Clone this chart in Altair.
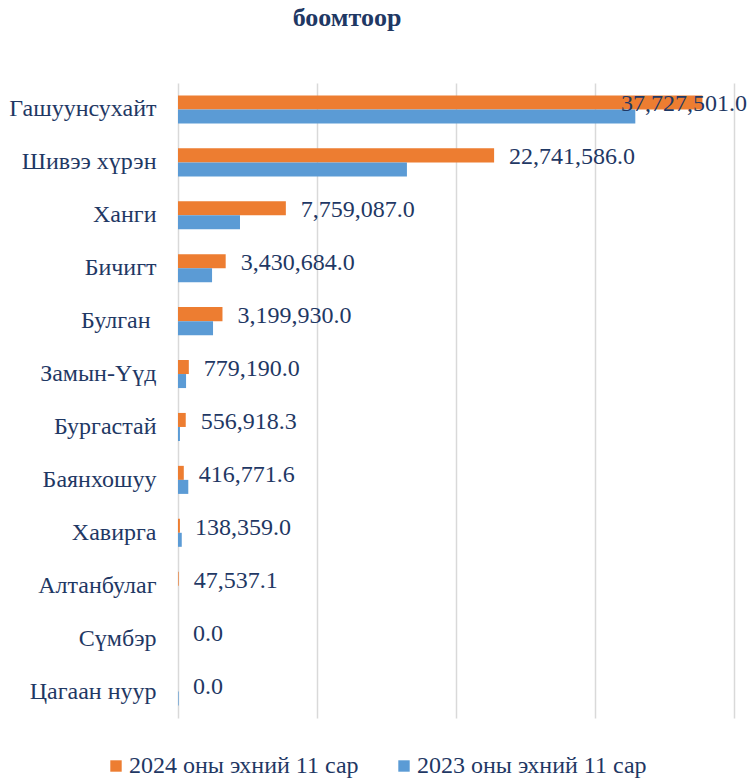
import altair as alt
import pandas as pd

ports = ["Гашуунсухайт", "Шивээ хүрэн", "Ханги", "Бичигт", "Булган ", "Замын-Үүд",
         "Бургастай", "Баянхошуу", "Хавирга", "Алтанбулаг", "Сүмбэр", "Цагаан нуур"]
series = ["2024 оны эхний 11 сар", "2023 оны эхний 11 сар"]
v2024 = [37727501.0, 22741586.0, 7759087.0, 3430684.0, 3199930.0, 779190.0,
         556918.3, 416771.6, 138359.0, 47537.1, 0.0, 0.0]
v2023 = [32900000.0, 16470000.0, 4460000.0, 2450000.0, 2520000.0, 580000.0,
         140000.0, 740000.0, 270000.0, 0.0, 0.0, 45000.0]
x_ticks = [0, 10000000, 20000000, 30000000, 40000000]

title_lines = ["Зураг 11. Автозамын экспортын ачаа, тонн,", "боомтоор"]

rows = []
for p, a, b in zip(ports, v2024, v2023):
    rows.append({"port": p, "series": series[0], "value": a})
    rows.append({"port": p, "series": series[1], "value": b})
df = pd.DataFrame(rows)

NAVY = "#1F3864"
FONT = "Liberation Serif"

y_enc = alt.Y("port:N", sort=ports,
              scale=alt.Scale(paddingInner=0.47, paddingOuter=0.235),
              axis=alt.Axis(title=None, labelFont=FONT, labelFontSize=24,
                            labelColor=NAVY, ticks=False, domain=False,
                            labelPadding=22, grid=False, labelLimit=300,
                            labelExpr="substring(datum.label, 0, 6) == 'Булган' ? 'Булган\u00a0\u200b' : datum.label"))
x_enc = alt.X("value:Q", scale=alt.Scale(domain=[0, 40000000], nice=False),
              axis=alt.Axis(title=None, labels=False, ticks=False, domain=False,
                            values=x_ticks, grid=True, gridColor="#D9D9D9",
                            gridWidth=1.5))

bars = alt.Chart(df).mark_bar().encode(
    x=x_enc,
    y=y_enc,
    yOffset=alt.YOffset("series:N", sort=series, scale=alt.Scale(paddingInner=0, paddingOuter=0)),
    color=alt.Color("series:N", sort=series,
                    scale=alt.Scale(domain=series, range=["#ED7D31", "#5B9BD5"]),
                    legend=alt.Legend(title=None, orient="none", legendX=-74, legendY=671,
                                      direction="horizontal", symbolType="square",
                                      symbolSize=130, symbolStrokeWidth=0,
                                      labelFont=FONT, labelFontSize=24, labelColor=NAVY,
                                      columnPadding=33, labelOffset=1, labelLimit=400)),
)

labels = alt.Chart(df).transform_filter(
    alt.datum.series == series[0]
).transform_calculate(
    lx="min(datum.value, 30790000)"
).mark_text(align="left", baseline="middle", dx=15, dy=-5, font=FONT,
            fontSize=24, color=NAVY).encode(
    x=alt.X("lx:Q"),
    y=alt.Y("port:N", sort=ports),
    text=alt.Text("value:Q", format=",.1f"),
)

chart = alt.layer(bars, labels).properties(
    width=556, height=635,
    autosize=alt.AutoSizeParams(type="none"),
    padding={"left": 170, "top": 75, "right": 13, "bottom": 70},
    title=alt.TitleParams(text=title_lines, anchor="middle", dx=-109, offset=52,
                          font=FONT, fontSize=26, fontWeight="bold", color=NAVY,
                          lineHeight=27),
).configure_view(stroke=None)

chart.save("out.html", embed_options={"renderer": "svg", "actions": False})
